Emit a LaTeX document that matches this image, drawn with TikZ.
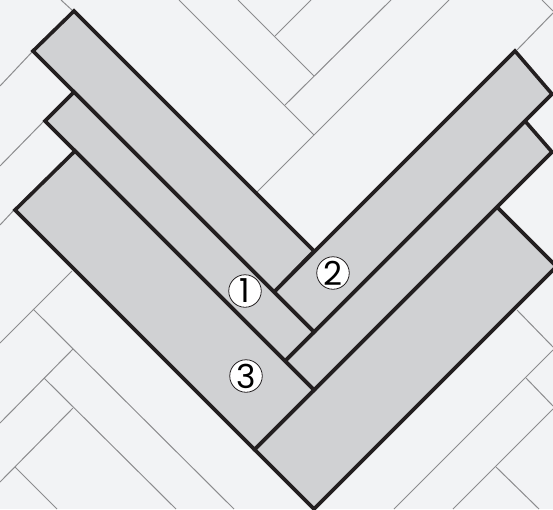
\documentclass[tikz,border=0pt]{standalone}
\usepackage{fontspec}
\setmainfont{Poppins}
\usepackage{xcolor}
\definecolor{floorBg}{HTML}{F2F3F5}
\definecolor{plankFill}{HTML}{D0D1D3}
\definecolor{seamGray}{HTML}{8C8C8E}
\definecolor{plankEdge}{HTML}{231F20}
\tikzset{
    plank/.style={draw=plankEdge, fill=plankFill, line width=3.6pt, line join=miter},
    seam/.style={draw=seamGray, line width=1pt},
    badge/.style={circle, draw=plankEdge, fill=white, line width=0.8pt, minimum size=32.5pt, inner sep=0pt, font=\fontsize{33}{33}\selectfont}
}

\begin{document}
\begin{tikzpicture}[x=1pt,y=-1pt]
    \useasboundingbox (0,0) rectangle (553,509);
    \clip (0,0) rectangle (553,509);
    \fill[floorBg] (0,0) rectangle (553,509);

    % floor seams behind the planks
    \foreach \xa/\ya/\xb/\yb in {
        179/0/314/135, 238/0/314/76, 311/0/275/36, 391/0/285/105, 449/0/257/192,
        553/13/517/50, 542/0/553/11, 61/0/73/11, 32/52/0/86, 43/122/0/166, 14/210/0/225,
        72/271/0/343, 33/309/234/509, 73/349/0/423, 44/378/176/509, 73/408/0/482, 15/467/57/509,
        517/310/553/347, 553/350/394/509, 526/378/553/406, 553/409/453/509, 496/467/539/509}
        \draw[seam] (\xa,\ya) -- (\xb,\yb);

    % right arm
    \draw[plank] (497,207) -- (556.5,266.5) -- (314,509) -- (254.5,449.5) -- cycle;
    \draw[plank] (525,121) -- (552,152) -- (314,390) -- (285,361) -- cycle;
    \draw[plank] (515,51) -- (552,94) -- (314,332) -- (274,292) -- cycle;

    % left arm
    \draw[plank] (74,11) -- (314,251) -- (274,292) -- (33,51) -- cycle;
    \draw[plank] (74,92) -- (314,332) -- (285,361) -- (45,121) -- cycle;
    \draw[plank] (75,151) -- (314,390) -- (254.5,449.5) -- (15,210) -- cycle;

    \node[badge] (one) at (245,291) {1};
    \node[badge] (two) at (333,273) {2};
    \node[badge] (three) at (246,376) {3};
\end{tikzpicture}
\end{document}
